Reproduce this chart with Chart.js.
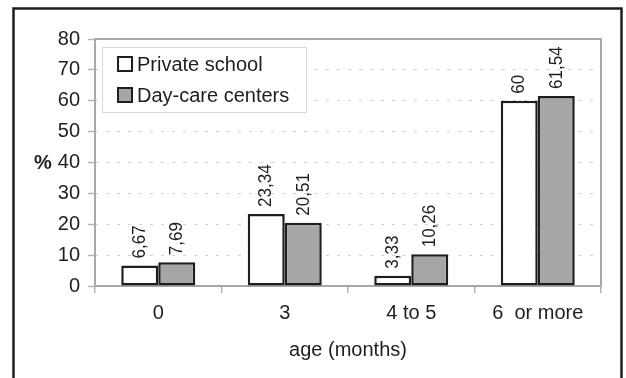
<!DOCTYPE html>
<html>
<head>
<meta charset="utf-8">
<script src="https://cdn.jsdelivr.net/npm/chart.js@4/dist/chart.umd.min.js"></script>
<style>
  html, body { margin: 0; padding: 0; background: #fff; }
  #wrap { width: 626px; height: 378px; }
</style>
</head>
<body>
<div id="wrap"><canvas id="c" width="626" height="378"></canvas></div>
<script>
// Age groups and share (%) per setting
const categories = ['0', '3', '4 to 5', '6  or more'];
const privateSchool = [6.67, 23.34, 3.33, 60];
const dayCare = [7.69, 20.51, 10.26, 61.54];
const yTicks = [0, 10, 20, 30, 40, 50, 60, 70, 80];
const seriesNames = ['Private school', 'Day-care centers'];

const FONT = '"Liberation Sans", Arial, sans-serif';
const INK = '#1e1e1e';
const fmt = v => String(v).replace('.', ',');

// Outer frame, plot frame, rotated value labels, "%" title and inset legend
const decorations = {
  id: 'decorations',
  beforeDraw(chart) {
    const ctx = chart.ctx;
    ctx.save();
    ctx.fillStyle = '#fff';
    ctx.fillRect(0, 0, chart.width, chart.height);
    ctx.strokeStyle = INK;
    ctx.lineWidth = 2.5;
    ctx.strokeRect(13.5, 8.5, 608, 420);
    ctx.restore();
  },
  beforeDatasetsDraw(chart) {
    const {ctx, chartArea: a} = chart;
    ctx.save();
    ctx.strokeStyle = '#a8a8a8';
    ctx.lineWidth = 2;
    ctx.strokeRect(a.left, a.top, a.right - a.left, a.bottom - a.top);
    ctx.restore();
  },
  afterDatasetsDraw(chart) {
    const ctx = chart.ctx;
    ctx.save();
    ctx.fillStyle = INK;
    ctx.font = '17px ' + FONT;
    ctx.textAlign = 'left';
    ctx.textBaseline = 'middle';
    chart.data.datasets.forEach((ds, i) => {
      chart.getDatasetMeta(i).data.forEach((bar, j) => {
        ctx.save();
        ctx.translate(bar.x, bar.y - 7);
        ctx.rotate(-Math.PI / 2);
        ctx.scale(1, 1.12);
        ctx.fillText(fmt(ds.data[j]), 0, 0);
        ctx.restore();
      });
    });

    // "%" axis title beside the 40 tick
    const y = chart.scales.y;
    ctx.font = 'bold 20px ' + FONT;
    ctx.textAlign = 'center';
    ctx.fillText('%', 43, y.getPixelForValue(40) + 1);

    // legend box in the upper-left of the plot
    const lx = 102, ly = 47, lw = 204, lh = 65;
    ctx.fillStyle = '#fff';
    ctx.fillRect(lx, ly, lw, lh);
    ctx.strokeStyle = '#d8d8d8';
    ctx.lineWidth = 1;
    ctx.strokeRect(lx + 0.5, ly + 0.5, lw, lh);
    ctx.font = '20px ' + FONT;
    ctx.textAlign = 'left';
    chart.data.datasets.forEach((ds, i) => {
      const cy = ly + 17 + i * 31;
      ctx.fillStyle = ds.backgroundColor;
      ctx.fillRect(118, cy - 7, 14, 14);
      ctx.strokeStyle = INK;
      ctx.lineWidth = 2;
      ctx.strokeRect(118, cy - 7, 14, 14);
      ctx.fillStyle = INK;
      ctx.fillText(ds.label, 137, cy + 1);
    });
    ctx.restore();
  }
};

new Chart(document.getElementById('c'), {
  type: 'bar',
  data: {
    labels: categories,
    datasets: [
      { label: seriesNames[0], data: privateSchool, backgroundColor: '#ffffff',
        borderColor: INK, borderWidth: 2.5, borderSkipped: false },
      { label: seriesNames[1], data: dayCare, backgroundColor: '#a6a6a6',
        borderColor: INK, borderWidth: 2.5, borderSkipped: false }
    ]
  },
  options: {
    responsive: false,
    animation: false,
    events: [],
    layout: { padding: { left: 0, top: 39, right: 25, bottom: 16 } },
    datasets: { bar: { categoryPercentage: 0.585, barPercentage: 1 } },
    plugins: { legend: { display: false }, tooltip: { enabled: false } },
    scales: {
      x: {
        offset: true,
        grid: { offset: true, drawOnChartArea: false, drawTicks: true, tickLength: 7,
                color: '#b4b4b4', lineWidth: 1.5 },
        border: { display: false },
        ticks: { color: INK, font: { family: FONT, size: 20 }, padding: 8, maxRotation: 0 },
        title: { display: true, text: 'age (months)', color: INK,
                 font: { family: FONT, size: 20 }, padding: { top: 0, bottom: 0 } },
        afterFit(s) { s.height = 76; }
      },
      y: {
        min: 0, max: 80,
        afterBuildTicks(s) { s.ticks = yTicks.map(v => ({ value: v })); },
        grid: { color: '#cfcfcf', lineWidth: 1, tickLength: 7, tickColor: '#b4b4b4',
                tickWidth: 1.5, tickBorderDash: [] },
        border: { display: false, dash: [3, 8] },
        ticks: { color: INK, font: { family: FONT, size: 20 }, padding: 8 },
        afterFit(s) { s.width = 95; }
      }
    }
  },
  plugins: [decorations]
});
</script>
</body>
</html>
